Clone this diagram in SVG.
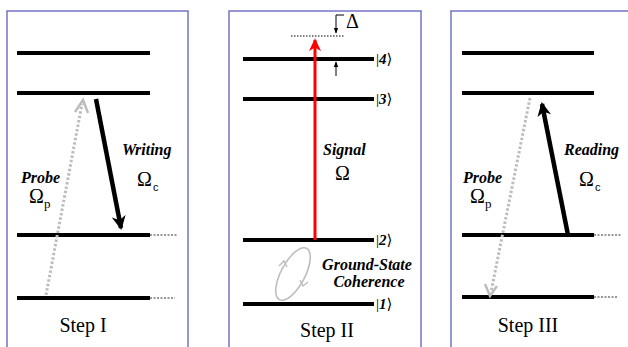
<svg xmlns="http://www.w3.org/2000/svg" width="628" height="347" viewBox="0 0 628 347" font-family="Liberation Serif, DejaVu Serif, serif">
  <defs>
    <style>
      .frame { fill: #ffffff; stroke: #7474c8; stroke-width: 1.5; }
      .level { stroke: #000; stroke-width: 4; }
      .ext { stroke: #333; stroke-width: 1.2; stroke-dasharray: 2 1.5; }
      .probe { stroke: #bdbdbd; stroke-width: 3; stroke-dasharray: 2.5 2; fill: none; }
      .probehead { stroke: #bdbdbd; stroke-width: 2.5; fill: none; }
      .strong { stroke: #000; stroke-width: 4.5; fill: none; }
      .lab { font-weight: bold; font-style: italic; font-size: 16px; }
      .om { font-size: 20px; }
      .subc { font-size: 11px; }
      .subp { font-size: 13px; }
      .step { font-size: 20px; text-anchor: middle; }
      .ket { font-size: 15px; }
      .ketn { font-weight: bold; font-style: italic; }
    </style>
    <marker id="blackHead" viewBox="0 0 14 14" refX="12" refY="7" markerWidth="14" markerHeight="14" markerUnits="userSpaceOnUse" orient="auto">
      <path d="M0,0 L14,7 L0,14 L4,7 Z" fill="#000"/>
    </marker>
    <marker id="redHead" viewBox="0 0 14 14" refX="12" refY="7" markerWidth="13" markerHeight="13" markerUnits="userSpaceOnUse" orient="auto">
      <path d="M0,0.5 L14,7 L0,13.5 L4,7 Z" fill="#ff0000"/>
    </marker>
    <marker id="thinHead" viewBox="0 0 10 10" refX="9" refY="5" markerWidth="6" markerHeight="6" markerUnits="userSpaceOnUse" orient="auto">
      <path d="M0,1 L10,5 L0,9 Z" fill="#000"/>
    </marker>
  </defs>

  <rect width="628" height="347" fill="#ffffff"/>

  <!-- Step I -->
  <g id="step1">
    <rect class="frame" x="7" y="11" width="181" height="345"/>
    <line class="level" x1="17" y1="53" x2="150" y2="53"/>
    <line class="level" x1="17" y1="93" x2="150" y2="93"/>
    <line class="level" x1="17" y1="235" x2="150" y2="235"/>
    <line class="level" x1="17" y1="298" x2="150" y2="298"/>
    <line class="ext" x1="150" y1="235" x2="178" y2="235"/>
    <line class="ext" x1="150" y1="298" x2="175" y2="298"/>
    <text class="lab" x="122" y="155">Writing</text>
    <text class="om" x="137" y="186">Ω<tspan class="subc" font-family="Liberation Sans, sans-serif" dx="1" dy="5">c</tspan></text>
    <text class="lab" x="21" y="183">Probe</text>
    <text class="om" x="29" y="203">Ω<tspan class="subp" dx="0" dy="5">p</tspan></text>
    <text class="step" x="83" y="332">Step I</text>
  </g>

  <!-- Step II -->
  <g id="step2">
    <rect class="frame" x="229" y="11" width="192" height="345"/>
    <line class="level" x1="243" y1="59" x2="374" y2="59"/>
    <line class="level" x1="243" y1="99" x2="374" y2="99"/>
    <line class="level" x1="243" y1="240" x2="374" y2="240"/>
    <line class="level" x1="243" y1="304" x2="374" y2="304"/>
    <line x1="291" y1="36" x2="344" y2="36" stroke="#000" stroke-width="1" stroke-dasharray="1.5 1.5"/>
    <text class="ket" x="376" y="64">|<tspan class="ketn">4</tspan>⟩</text>
    <text class="ket" x="376" y="104">|<tspan class="ketn">3</tspan>⟩</text>
    <text class="ket" x="376" y="245">|<tspan class="ketn">2</tspan>⟩</text>
    <text class="ket" x="376" y="309">|<tspan class="ketn">1</tspan>⟩</text>
    <text class="lab" x="323" y="155">Signal</text>
    <text class="om" x="335" y="180">Ω</text>
    <text class="lab" x="367" y="270" text-anchor="middle">Ground-State</text>
    <text class="lab" x="369" y="287" text-anchor="middle">Coherence</text>
    <text class="om" x="346" y="28" font-size="17">Δ</text>
    <text class="step" x="327" y="337">Step II</text>
  </g>

  <!-- Step III -->
  <g id="step3">
    <rect class="frame" x="451" y="11" width="190" height="345"/>
    <line class="level" x1="462" y1="53" x2="594" y2="53"/>
    <line class="level" x1="462" y1="93" x2="594" y2="93"/>
    <line class="level" x1="462" y1="235" x2="594" y2="235"/>
    <line class="level" x1="462" y1="297" x2="594" y2="297"/>
    <line class="ext" x1="594" y1="235" x2="622" y2="235"/>
    <line class="ext" x1="594" y1="297" x2="618" y2="297"/>
    <text class="lab" x="564" y="155">Reading</text>
    <text class="om" x="579" y="186">Ω<tspan class="subc" font-family="Liberation Sans, sans-serif" dx="1" dy="5">c</tspan></text>
    <text class="lab" x="463" y="183">Probe</text>
    <text class="om" x="470" y="203">Ω<tspan class="subp" dx="0" dy="5">p</tspan></text>
    <text class="step" x="528" y="332">Step III</text>
  </g>

  <!-- transitions -->
  <g id="connectors">
    <!-- Step I: probe up, writing down -->
    <line class="probe" x1="46" y1="295" x2="82" y2="104"/>
    <polyline class="probehead" points="75,112 83,100 88,113"/>
    <line class="strong" x1="96" y1="99" x2="121" y2="228" marker-end="url(#blackHead)"/>
    <!-- Step II: signal, detuning, coherence -->
    <line x1="315" y1="240" x2="315" y2="40" stroke="#ff0000" stroke-width="3" marker-end="url(#redHead)"/>
    <line x1="336" y1="15" x2="336" y2="33" stroke="#000" stroke-width="1" marker-end="url(#thinHead)"/>
    <line x1="336" y1="15" x2="344" y2="15" stroke="#000" stroke-width="1"/>
    <line x1="336" y1="76" x2="336" y2="62" stroke="#000" stroke-width="1" marker-end="url(#thinHead)"/>
    <ellipse cx="293" cy="274" rx="12" ry="29" transform="rotate(28 293 274)" fill="none" stroke="#bdbdbd" stroke-width="1.6"/>
    <polyline points="279,266 284,261 287,267" fill="none" stroke="#bdbdbd" stroke-width="1.4"/>
    <polyline points="300,280 303,286 308,282" fill="none" stroke="#bdbdbd" stroke-width="1.4"/>
    <!-- Step III: reading up, probe down -->
    <line class="strong" x1="568" y1="235" x2="542" y2="104" marker-end="url(#blackHead)"/>
    <line class="probe" x1="530" y1="98" x2="491" y2="292"/>
    <polyline class="probehead" points="485,284 490,296 497,286"/>
  </g>
</svg>
